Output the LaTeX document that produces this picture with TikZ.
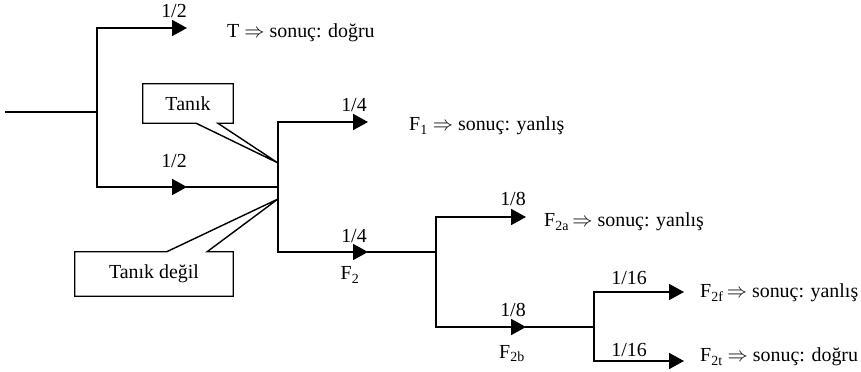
\documentclass[tikz,border=0pt]{standalone}
\usepackage{fontspec}
\setmainfont{Liberation Serif}
\usepackage{tikz}
\usetikzlibrary{arrows.meta,calc}

\begin{document}
\begin{tikzpicture}[x=0.03cm,y=-0.03cm,font=\fontsize{17}{20}\selectfont,
  br/.style={line width=1.6pt,line cap=rect},
  arr/.style={-{Triangle[length=4.5mm,width=4.8mm]}},
  lbl/.style={anchor=base,inner sep=0pt},
  res/.style={anchor=base west,inner sep=0pt},
  callout/.style={line width=1.2pt,fill=white}]
\useasboundingbox (0,0) rectangle (861,372);
\foreach \n/\x/\y in {start/6/112,s1/97/112,s1a/97/28,s1b/97/187,pT/187/28,p1/187/187,
  s2/278/187,s2a/278/122,s2b/278/252,pF1/368/122,p2/368/252,
  s3/436/252,s3a/436/217,s3b/436/327,pF2a/526/217,p3/526/327,
  s4/594/327,s4a/594/292,s4b/594/361,pF2f/684/292,pF2t/684/361,
  k1/278/163,k2/278/199}
  \coordinate (\n) at (\x,\y);

\node[minimum width=2.7cm,minimum height=1.17cm] (tanik) at (188,103.5) {};
\draw[callout] (tanik.north west) -- (tanik.north east) -- (tanik.south east)
  -- ($(tanik.south west)!0.83!(tanik.south east)$) -- (k1)
  -- ($(tanik.south west)!0.59!(tanik.south east)$) -- (tanik.south west) -- cycle;
\node at (tanik) {Tanık};
\node[minimum width=4.74cm,minimum height=1.32cm] (degil) at (154,274) {};
\draw[callout] (degil.south west) -- (degil.north west)
  -- ($(degil.north west)!0.58!(degil.north east)$) -- (k2)
  -- ($(degil.north west)!0.835!(degil.north east)$) -- (degil.north east)
  -- (degil.south east) -- cycle;
\node at (degil) {Tanık değil};

\draw[br] (start) -- (s1);
\draw[br,arr] (s1b) -- (s1a) -- (pT);
\draw[br,arr] (s1b) -- (p1);
\draw[br] (p1) -- (s2);
\draw[br,arr] (s2b) -- (s2a) -- (pF1);
\draw[br,arr] (s2b) -- (p2);
\draw[br] (p2) -- (s3);
\draw[br,arr] (s3b) -- (s3a) -- (pF2a);
\draw[br,arr] (s3b) -- (p3);
\draw[br] (p3) -- (s4);
\draw[br,arr] (s4b) -- (s4a) -- (pF2f);
\draw[br,arr] (s4b) -- (pF2t);

\node[lbl] (h1) at (174,18) {1/2};
\node[lbl] (h2) at (174,168) {1/2};
\node[lbl] (q1) at (354,112) {1/4};
\node[lbl] (q2) at (354,243) {1/4};
\node[lbl] (e1) at (513,206) {1/8};
\node[lbl] (e2) at (513,317) {1/8};
\node[lbl] (x1) at (629,285) {1/16};
\node[lbl] (x2) at (629,357) {1/16};
\node[lbl] (f2) at (350,280) {F\textsubscript{2}};
\node[lbl] (f2b) at (512,358) {F\textsubscript{2b}};

\node[res] (rT) at (227,38) {T $\Rightarrow$ sonuç: doğru};
\node[res] (rF1) at (409,131) {F\textsubscript{1} $\Rightarrow$ sonuç: yanlış};
\node[res] (rF2a) at (544,227) {F\textsubscript{2a}\,$\Rightarrow$ sonuç: yanlış};
\node[res] (rF2f) at (700,298) {F\textsubscript{2f}\,$\Rightarrow$ sonuç: yanlış};
\node[res] (rF2t) at (700,362) {F\textsubscript{2t} $\Rightarrow$ sonuç: doğru};
\end{tikzpicture}
\end{document}
